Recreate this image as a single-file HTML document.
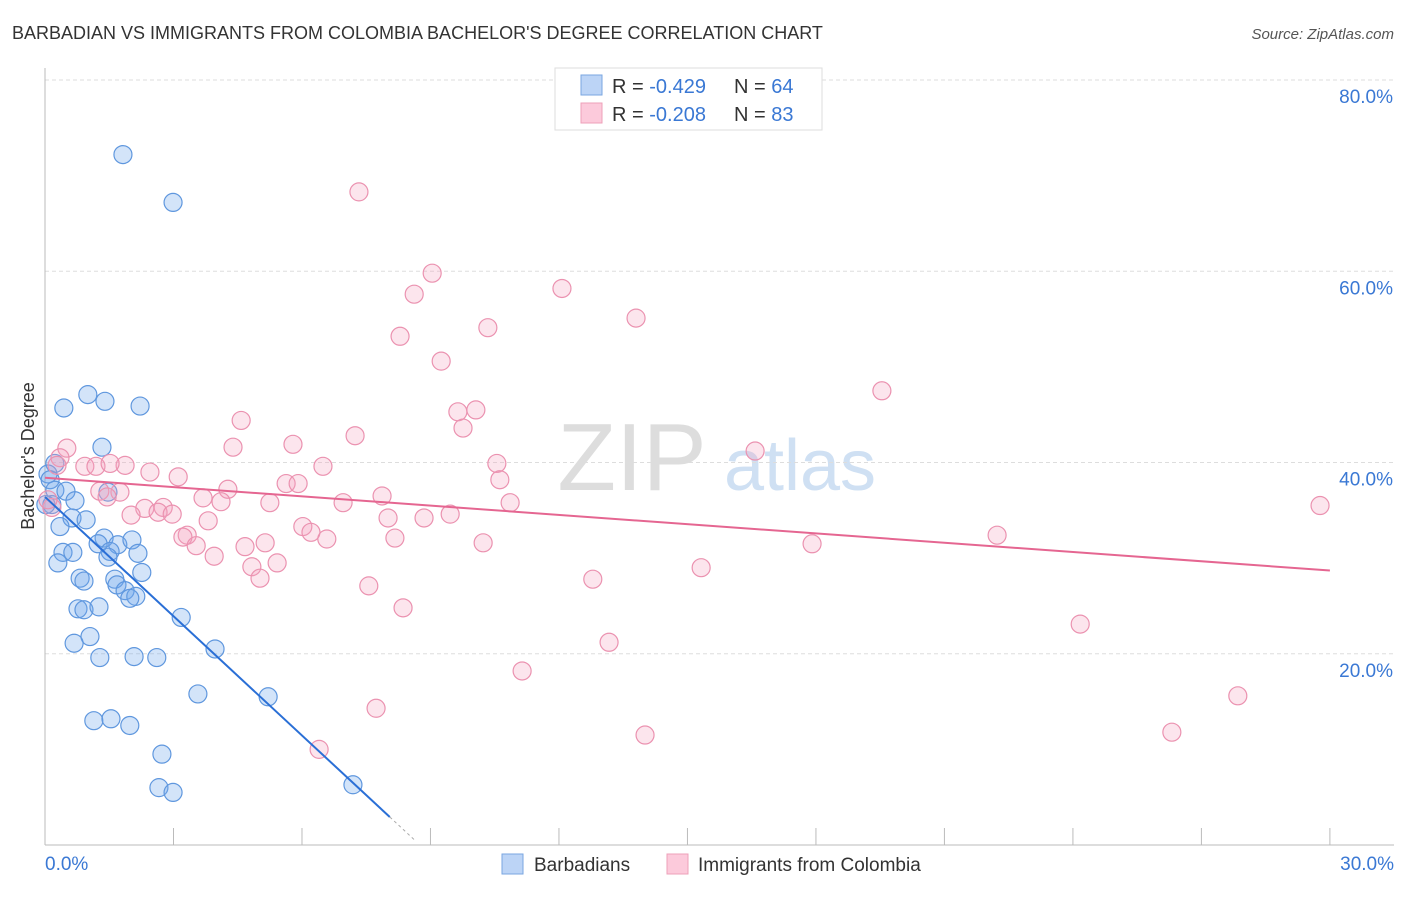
<!DOCTYPE html>
<html><head><meta charset="utf-8"><style>
body{margin:0;background:#fff;font-family:"Liberation Sans",sans-serif}
svg text{font-family:"Liberation Sans",sans-serif}
</style></head><body>
<svg id="c" width="1406" height="892" xmlns="http://www.w3.org/2000/svg">
<text x="12" y="39" font-size="18" fill="#333">BARBADIAN VS IMMIGRANTS FROM COLOMBIA BACHELOR'S DEGREE CORRELATION CHART</text>
<text x="1394" y="39" font-size="15" fill="#555" font-style="italic" text-anchor="end">Source: ZipAtlas.com</text>
<g>
<text x="632" y="490" font-size="96" fill="#ddd" font-family="Liberation Serif" text-anchor="middle">ZIP</text>
<text x="800" y="490" font-size="72" fill="#cfe0f3" text-anchor="middle">atlas</text>
</g>
<g id="grid"></g>
<g id="axes"></g>
<g id="marks"></g>
<text transform="translate(34,456) rotate(-90)" font-size="18" fill="#333" text-anchor="middle">Bachelor's Degree</text>
<g>
<rect x="555" y="68" width="267" height="62" fill="#fff" stroke="#ddd"/>
<rect x="581" y="75" width="21" height="20" fill="#bcd4f6" stroke="#7aa6e0"/>
<rect x="581" y="103" width="21" height="20" fill="#fccadb" stroke="#eea0b8"/>
<text x="612" y="93" font-size="20" fill="#333">R = <tspan fill="#3a78d4">-0.429</tspan><tspan x="734">N = </tspan><tspan fill="#3a78d4">64</tspan></text>
<text x="612" y="121" font-size="20" fill="#333">R = <tspan fill="#3a78d4">-0.208</tspan><tspan x="734">N = </tspan><tspan fill="#3a78d4">83</tspan></text>
</g>
<g>
<rect x="502" y="854" width="21" height="20" fill="#bcd4f6" stroke="#7aa6e0"/>
<text x="534" y="871" font-size="19" fill="#333">Barbadians</text>
<rect x="667" y="854" width="21" height="20" fill="#fccadb" stroke="#eea0b8"/>
<text x="698" y="871" font-size="19" fill="#333">Immigrants from Colombia</text>
</g>
</svg>
<script>
const yTicks=[20,40,60,80];
const yTickLabels=["20.0%","40.0%","60.0%","80.0%"];
const xTicks=[0,3,6,9,12,15,18,21,24,27,30];
const xEndLabels=["0.0%","30.0%"];
const blueX=[1.82,2.99,0.44,1.00,1.40,2.22,1.33,0.23,0.07,0.12,0.23,0.49,1.47,0.16,0.70,0.02,0.63,0.96,0.35,1.38,1.70,1.24,2.03,0.42,0.65,1.52,1.47,2.17,0.30,0.82,0.91,1.63,1.68,1.87,2.12,1.98,2.26,0.77,0.91,1.26,3.18,1.05,0.68,1.28,2.08,2.61,3.97,3.57,5.21,1.14,1.54,1.98,2.73,2.66,2.99,7.19];
const blueY=[72.2,67.2,45.7,47.1,46.4,45.9,41.6,39.9,38.8,38.2,37.1,37.0,36.9,35.6,36.0,35.6,34.2,34.0,33.3,32.1,31.4,31.5,31.9,30.6,30.6,30.7,30.1,30.5,29.5,27.9,27.6,27.8,27.2,26.6,26.0,25.8,28.5,24.7,24.6,24.9,23.8,21.8,21.1,19.6,19.7,19.6,20.5,15.8,15.5,13.0,13.2,12.5,9.5,6.0,5.5,6.3];
const pinkX=[7.33,9.04,8.62,12.07,10.34,13.80,8.29,9.25,19.54,9.64,10.06,9.76,4.58,7.24,5.79,4.39,0.51,0.35,16.58,10.55,6.49,0.93,1.19,1.87,0.28,1.52,2.45,3.11,10.62,5.63,5.91,4.27,1.28,1.75,1.45,3.69,4.11,7.87,5.25,6.96,10.86,2.76,2.33,2.01,2.64,2.97,3.81,8.01,8.85,9.46,29.77,6.02,6.21,3.32,3.22,6.58,8.17,3.53,4.67,5.14,10.23,17.91,22.23,3.95,5.42,4.83,5.02,7.56,12.79,15.32,8.36,13.17,24.17,11.14,7.73,27.85,14.01,26.31,6.40,0.16,0.07];
const pinkY=[68.3,59.8,57.6,58.2,54.1,55.1,53.2,50.6,47.5,45.3,45.5,43.6,44.4,42.8,41.9,41.6,41.5,40.5,41.2,39.9,39.6,39.6,39.6,39.7,39.7,39.9,39.0,38.5,38.2,37.8,37.8,37.2,37.0,36.9,36.4,36.3,35.9,36.5,35.8,35.8,35.8,35.3,35.2,34.5,34.8,34.6,33.9,34.2,34.2,34.6,35.5,33.3,32.7,32.4,32.2,32.0,32.1,31.3,31.2,31.6,31.6,31.5,32.4,30.2,29.5,29.1,27.9,27.1,27.8,29.0,24.8,21.2,23.1,18.2,14.3,15.6,11.5,11.8,10.0,35.3,36.1];
const blueTrend=[36.4,2.93,8.05]; // y at 0, y at end, end x
const pinkTrend=[38.4,28.7,30];
const NS="http://www.w3.org/2000/svg";
const sx=v=>45+v*42.83, sy=v=>845-v*9.5625;
function mk(t,a,p){const e=document.createElementNS(NS,t);for(const k in a)e.setAttribute(k,a[k]);p.appendChild(e);return e;}
const grid=document.getElementById('grid'),axes=document.getElementById('axes'),marks=document.getElementById('marks');
yTicks.forEach((v,i)=>{
 const l=mk('line',{x1:45,x2:1394,y1:sy(v),y2:sy(v),stroke:'#ddd','stroke-dasharray':'4,3'},grid);
 
 
 const t=mk('text',{x:1393,y:sy(v)+23,'font-size':19,fill:'#3a78d4','text-anchor':'end'},grid);
 t.textContent=yTickLabels[i];
 
 
});
const ax=mk('line',{x1:45,x2:1394,y1:845,y2:845,stroke:'#bbb'},axes);


const ay=mk('line',{x1:45,x2:45,y1:68,y2:845,stroke:'#bbb'},axes);


xTicks.forEach(v=>{
 const l=mk('line',{x1:sx(v),x2:sx(v),y1:828,y2:845,stroke:'#bbb'},axes);
 
 
});
[[0,'start',45],[30,'end',1394]].forEach((d,i)=>{
 const t=mk('text',{x:d[2],y:870,'font-size':19,fill:'#3a78d4','text-anchor':d[1]},axes);
 t.textContent=xEndLabels[i];
 
 
});
blueX.forEach((x,i)=>{
 const c=mk('circle',{cx:sx(x),cy:sy(blueY[i]),r:9,fill:'rgba(110,165,235,0.3)',stroke:'#5f97de','stroke-width':1.2},marks);
 
 
});
pinkX.forEach((x,i)=>{
 const c=mk('circle',{cx:sx(x),cy:sy(pinkY[i]),r:9,fill:'rgba(245,160,190,0.28)',stroke:'#eb92b0','stroke-width':1.2},marks);
 
 
});
const bl=mk('line',{x1:sx(0),y1:sy(blueTrend[0]),x2:sx(blueTrend[2]),y2:sy(blueTrend[1]),stroke:'#2a6fd6','stroke-width':2},marks);


const slope=(blueTrend[1]-blueTrend[0])/blueTrend[2];
const bd=mk('line',{x1:sx(blueTrend[2]),y1:sy(blueTrend[1]),x2:sx(blueTrend[2]+0.6),y2:sy(blueTrend[1]+slope*0.6),stroke:'#aaa','stroke-width':1,'stroke-dasharray':'3,3'},marks);


const pl=mk('line',{x1:sx(0),y1:sy(pinkTrend[0]),x2:sx(pinkTrend[2]),y2:sy(pinkTrend[1]),stroke:'#e56691','stroke-width':2},marks);


</script>
</body></html>
